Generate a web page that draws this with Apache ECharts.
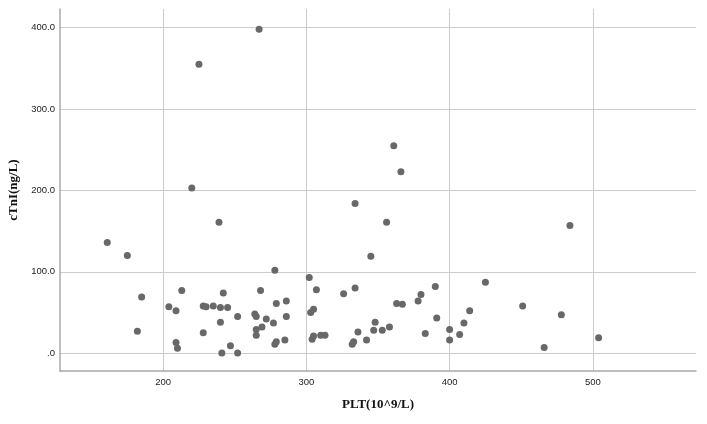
<!DOCTYPE html>
<html>
<head>
<meta charset="utf-8">
<script src="https://cdn.jsdelivr.net/npm/echarts@6/dist/echarts.min.js"></script>
<style>
  html, body { margin: 0; padding: 0; background: #fff; }
  #chart { width: 707px; height: 424px; }
</style>
</head>
<body>
<div id="chart"></div>
<script>
// PLT (x) and cTnI (y)
var plt = [267, 225, 220, 239, 161, 175, 185, 182, 204, 209, 213, 209, 210, 228, 228, 230,
  235, 240, 242, 240, 245, 241, 247, 252, 252, 268, 264, 265, 272, 265, 265, 269,
  277, 278, 279, 278, 279, 286, 286, 285, 302, 307, 303, 305, 304, 305, 310, 313,
  326, 334, 332, 333, 336, 334, 356, 345, 361, 366, 363, 367, 378, 380, 390, 391,
  383, 400, 400, 407, 410, 414, 425, 451, 478, 484, 466, 504, 342, 347, 348, 353, 358];
var ctni = [398, 355, 203, 161, 136, 120, 69, 27, 57, 52, 77, 13, 6, 25, 58, 57,
  58, 56, 74, 38, 56, 0, 9, 45, 0, 77, 48, 45, 42, 29, 22, 32,
  37, 102, 61, 11, 14, 64, 45, 16, 93, 78, 50, 54, 17, 21, 22, 22,
  73, 80, 11, 14, 26, 184, 161, 119, 255, 223, 61, 60, 64, 72, 82, 43,
  24, 29, 16, 23, 37, 52, 87, 58, 47, 157, 7, 19, 16, 28, 38, 28, 32];
var xTicks = [200, 300, 400, 500];
var yTicks = [0, 100, 200, 300, 400];

var points = [];
for (var i = 0; i < plt.length; i++) {
  points.push([plt[i], ctni[i]]);
}

var chart = echarts.init(document.getElementById('chart'));
chart.setOption({
  animation: false,
  grid: { left: 60, right: 11, top: 9, bottom: 53, containLabel: false, outerBoundsMode: 'none' },
  xAxis: {
    type: 'value',
    min: 128,
    max: 572,
    name: 'PLT(10^9/L)',
    nameLocation: 'middle',
    nameGap: 27,
    nameTextStyle: { fontFamily: 'Liberation Serif', fontWeight: 'bold', fontSize: 13, color: '#111' },
    axisLine: { show: true, onZero: false, lineStyle: { color: '#a8a8a8', width: 1.5 } },
    axisTick: { show: false, customValues: xTicks },
    axisLabel: { customValues: xTicks, fontFamily: 'Liberation Sans', fontSize: 9.5, color: '#222', margin: 6 },
    splitLine: { show: true, lineStyle: { color: '#cccccc', width: 1 } }
  },
  yAxis: {
    type: 'value',
    min: -22,
    max: 423,
    name: 'cTnI(ng/L)',
    nameLocation: 'middle',
    nameGap: 38,
    nameTextStyle: { fontFamily: 'Liberation Serif', fontWeight: 'bold', fontSize: 13, color: '#111' },
    axisLine: { show: true, onZero: false, lineStyle: { color: '#a8a8a8', width: 1.5 } },
    axisTick: { show: false, customValues: yTicks },
    axisLabel: {
      customValues: yTicks,
      fontFamily: 'Liberation Sans', fontSize: 9.5, color: '#222', margin: 5,
      formatter: function (v) { return v === 0 ? '.0' : v.toFixed(1); }
    },
    splitLine: { show: true, lineStyle: { color: '#cccccc', width: 1 } }
  },
  series: [{
    type: 'scatter',
    symbol: 'circle',
    symbolSize: 7,
    itemStyle: { color: '#686868', opacity: 1 },
    data: points
  }]
});
</script>
</body>
</html>
